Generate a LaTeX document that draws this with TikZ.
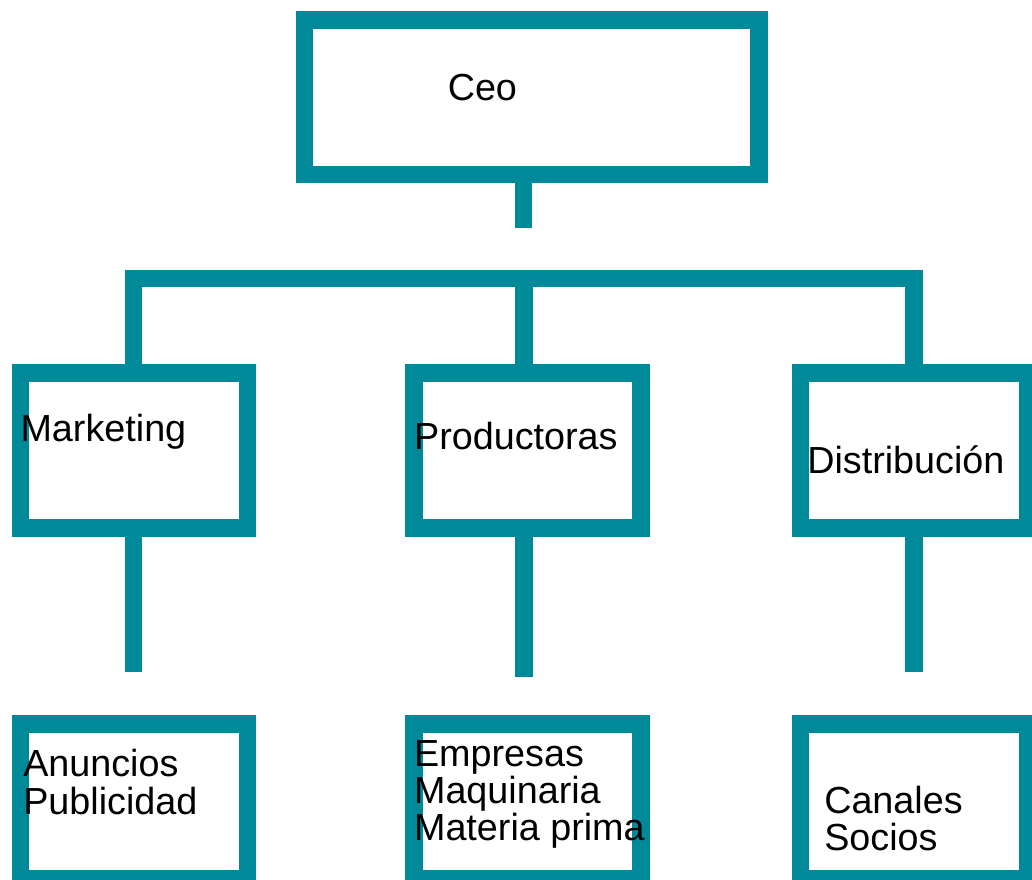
\documentclass[tikz,border=0pt]{standalone}
\usepackage{fontspec}
\setmainfont{Liberation Sans}
\definecolor{orgteal}{RGB}{0,138,153}
\begin{document}
\begin{tikzpicture}[x=0.75pt,y=-0.75pt,
  box/.style={draw=orgteal, line width=13.125pt, inner sep=0pt},
  topbox/.style={box, minimum width=454.5*0.75pt, minimum height=154.5*0.75pt},
  unitbox/.style={box, minimum width=227*0.75pt, minimum height=155*0.75pt},
  link/.style={draw=orgteal, line width=13.125pt, line cap=butt, line join=miter},
  lbl/.style={anchor=base west, inner sep=0pt, font=\fontsize{28.3pt}{28pt}\selectfont, align=left}]
\useasboundingbox (0,0) rectangle (1032,879);
% boxes
\node[topbox] (ceo) at (531.6,97) {};
\node[unitbox] (mk) at (133.9,450.5) {};
\node[unitbox] (pr) at (527.5,450.5) {};
\node[unitbox] (di) at (914.2,450.5) {};
\node[unitbox] (an) at (133.9,801.5) {};
\node[unitbox] (em) at (527.5,801.5) {};
\node[unitbox] (ca) at (914.2,801.5) {};
% connectors
\coordinate (ceoend) at (523.7,227.7);
\draw[link] (ceo.south -| ceoend) -- (ceoend);
\coordinate (bl) at (133.5,278.7);
\coordinate (bm) at (523.8,278.7);
\coordinate (br) at (914,278.7);
\draw[link] (bl |- mk.north) -- (bl) -- (br) -- (br |- di.north);
\draw[link] (bm) -- (bm |- pr.north);
\coordinate (mkend) at (133.5,671.7);
\coordinate (prend) at (523.8,677.3);
\coordinate (diend) at (914,671.7);
\draw[link] (mk.south -| mkend) -- (mkend);
\draw[link] (pr.south -| prend) -- (prend);
\draw[link] (di.south -| diend) -- (diend);
% labels
\node[lbl] (tceo) at (447.5,100.7) {Ceo};
\node[lbl] (tmk) at (20.3,441.7) {Marketing};
\node[lbl] (tpr) at (413.9,449.3) {Productoras};
\node[lbl] (tdi) at (807,473.3) {Distribución};
\node[lbl] (tan) at (23,814) {Anuncios\\Publicidad};
\node[lbl] (tem) at (413.8,840.7) {Empresas\\Maquinaria\\Materia prima};
\node[lbl] (tca) at (824,850.7) {Canales\\Socios};
\end{tikzpicture}
\end{document}
